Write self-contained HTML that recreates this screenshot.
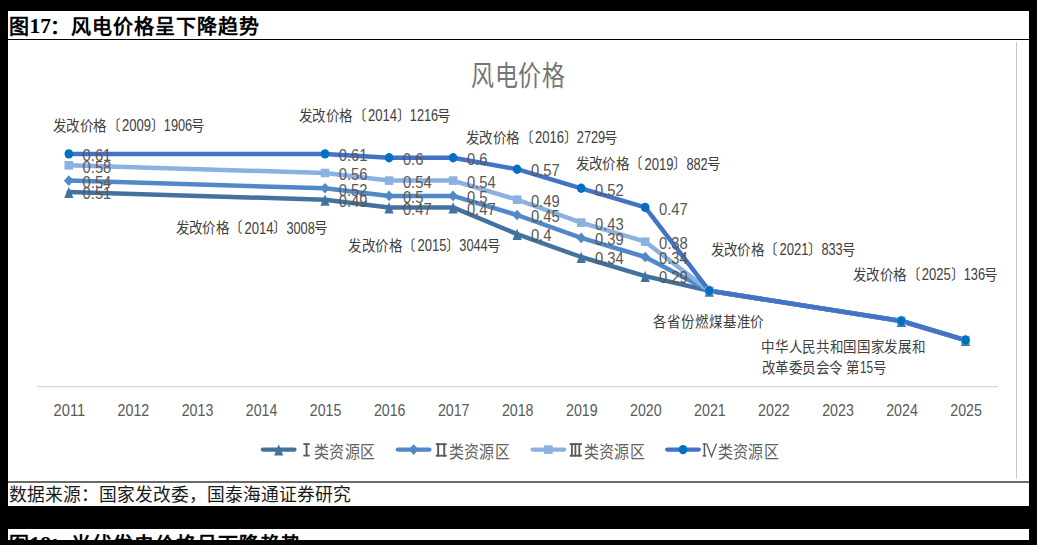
<!DOCTYPE html>
<html lang="zh-CN"><head><meta charset="utf-8">
<style>
html,body{margin:0;padding:0;background:#000;width:1037px;height:545px;overflow:hidden;}
body{position:relative;font-family:"Liberation Sans",sans-serif;}
.panel{position:absolute;left:8px;top:11px;width:1021px;height:495px;background:#fff;}
.panel2{position:absolute;left:8px;top:529px;width:1021px;height:11px;background:#fff;overflow:hidden;}
.title{position:absolute;left:0;top:0;width:400px;height:28px;}
.title span{position:absolute;top:3.8px;line-height:24px;white-space:nowrap;color:#000;font-weight:bold;}
.tc{font-size:20px;font-family:"Liberation Serif",serif;}
.tr{letter-spacing:0.95px;}
.td{font-size:21.5px;margin-top:-1px;font-family:"Liberation Serif",serif;}
.tline{position:absolute;left:0;top:28px;width:1021px;height:1px;background:#000;}
.src{position:absolute;left:1px;top:474px;font-size:17.8px;color:#1a1a1a;white-space:nowrap;line-height:20px;font-family:"Liberation Serif",serif;}
.sline{position:absolute;left:0;top:470px;width:1021px;height:1.5px;background:#6a6a6a;}
svg{position:absolute;left:0;top:0;}
.dl{font-family:"Liberation Sans",sans-serif;font-size:16.8px;fill:#575757;}
.xl{font-family:"Liberation Sans",sans-serif;font-size:17.4px;fill:#595959;}
.ct{font-size:23px;fill:#757575;letter-spacing:0.6px;}
.an{font-size:13.5px;fill:#404040;}
.dg{font-size:14.6px;}
.lg{font-size:15px;letter-spacing:0.5px;fill:#626262;}
</style></head><body>
<div class="panel">
<div class="title"><span class="tc" style="left:1px">图</span><span class="td" style="left:21.5px">17</span><span class="tc" style="left:42px">：</span><span class="tc tr" style="left:63.3px">风电价格呈下降趋势</span></div>
<div class="tline"></div>
<div class="sline"></div>
<div class="src">数据来源：国家发改委，国泰海通证券研究</div>
</div>
<div class="panel2"><div class="title" style="top:0.5px"><span class="tc" style="left:1px">图</span><span class="td" style="left:21.5px">18</span><span class="tc" style="left:42px">：</span><span class="tc tr" style="left:63.3px">光伏发电价格呈下降趋势</span></div></div>
<svg width="1037" height="545" viewBox="0 0 1037 545">
<line x1="37" y1="386.6" x2="998" y2="386.6" stroke="#D9D9D9" stroke-width="1.3"/>
<line x1="1016.5" y1="42" x2="1016.5" y2="478.5" stroke="#C8C8C8" stroke-width="1"/>
<polyline points="68.8,192.1 325.0,199.7 389.1,207.4 453.1,207.4 517.1,234.1 581.2,257.0 645.2,276.1 709.3,290.8 901.4,321.0 965.5,340.1" fill="none" stroke="#44729F" stroke-width="4.5" stroke-linejoin="round" stroke-linecap="round"/>
<polyline points="68.8,180.6 325.0,188.3 389.1,195.9 453.1,195.9 517.1,215.0 581.2,237.9 645.2,257.0 709.3,290.8 901.4,321.0 965.5,340.1" fill="none" stroke="#5089C6" stroke-width="4.5" stroke-linejoin="round" stroke-linecap="round"/>
<polyline points="68.8,165.3 325.0,173.0 389.1,180.6 453.1,180.6 517.1,199.7 581.2,222.6 645.2,241.7 709.3,290.8 901.4,321.0 965.5,340.1" fill="none" stroke="#8AB1DF" stroke-width="4.5" stroke-linejoin="round" stroke-linecap="round"/>
<polyline points="68.8,153.9 325.0,153.9 389.1,157.7 453.1,157.7 517.1,169.2 581.2,188.3 645.2,207.4 709.3,290.8 901.4,321.0 965.5,340.1" fill="none" stroke="#4472C4" stroke-width="4.5" stroke-linejoin="round" stroke-linecap="round"/>
<path d="M68.8 186.7L73.4 198.1L64.2 198.1Z" fill="#44729F"/>
<path d="M325.0 194.3L329.6 205.7L320.4 205.7Z" fill="#44729F"/>
<path d="M389.1 202.0L393.7 213.4L384.4 213.4Z" fill="#44729F"/>
<path d="M453.1 202.0L457.7 213.4L448.5 213.4Z" fill="#44729F"/>
<path d="M517.1 228.7L521.8 240.1L512.5 240.1Z" fill="#44729F"/>
<path d="M581.2 251.6L585.8 263.0L576.6 263.0Z" fill="#44729F"/>
<path d="M645.2 270.7L649.8 282.1L640.6 282.1Z" fill="#44729F"/>
<path d="M709.3 285.4L713.9 296.8L704.7 296.8Z" fill="#44729F"/>
<path d="M901.4 315.6L906.0 327.0L896.8 327.0Z" fill="#44729F"/>
<path d="M965.5 334.7L970.1 346.1L960.9 346.1Z" fill="#44729F"/>
<path d="M68.8 175.3L73.7 180.6L68.8 185.9L63.9 180.6Z" fill="#5089C6"/>
<path d="M325.0 183.0L329.9 188.3L325.0 193.6L320.1 188.3Z" fill="#5089C6"/>
<path d="M389.1 190.6L393.9 195.9L389.1 201.2L384.2 195.9Z" fill="#5089C6"/>
<path d="M453.1 190.6L458.0 195.9L453.1 201.2L448.2 195.9Z" fill="#5089C6"/>
<path d="M517.1 209.7L522.0 215.0L517.1 220.3L512.2 215.0Z" fill="#5089C6"/>
<path d="M581.2 232.6L586.1 237.9L581.2 243.2L576.3 237.9Z" fill="#5089C6"/>
<path d="M645.2 251.7L650.1 257.0L645.2 262.3L640.3 257.0Z" fill="#5089C6"/>
<path d="M709.3 285.5L714.2 290.8L709.3 296.1L704.4 290.8Z" fill="#5089C6"/>
<path d="M901.4 315.7L906.3 321.0L901.4 326.3L896.5 321.0Z" fill="#5089C6"/>
<path d="M965.5 334.8L970.4 340.1L965.5 345.4L960.6 340.1Z" fill="#5089C6"/>
<rect x="64.5" y="161.0" width="8.6" height="8.6" fill="#8AB1DF"/>
<rect x="320.7" y="168.7" width="8.6" height="8.6" fill="#8AB1DF"/>
<rect x="384.8" y="176.3" width="8.6" height="8.6" fill="#8AB1DF"/>
<rect x="448.8" y="176.3" width="8.6" height="8.6" fill="#8AB1DF"/>
<rect x="512.9" y="195.4" width="8.6" height="8.6" fill="#8AB1DF"/>
<rect x="576.9" y="218.3" width="8.6" height="8.6" fill="#8AB1DF"/>
<rect x="640.9" y="237.4" width="8.6" height="8.6" fill="#8AB1DF"/>
<rect x="705.0" y="286.5" width="8.6" height="8.6" fill="#8AB1DF"/>
<rect x="897.1" y="316.7" width="8.6" height="8.6" fill="#8AB1DF"/>
<rect x="961.2" y="335.8" width="8.6" height="8.6" fill="#8AB1DF"/>
<ellipse cx="68.8" cy="153.9" rx="4.3" ry="4.7" fill="#0070C0"/>
<ellipse cx="325.0" cy="153.9" rx="4.3" ry="4.7" fill="#0070C0"/>
<ellipse cx="389.1" cy="157.7" rx="4.3" ry="4.7" fill="#0070C0"/>
<ellipse cx="453.1" cy="157.7" rx="4.3" ry="4.7" fill="#0070C0"/>
<ellipse cx="517.1" cy="169.2" rx="4.3" ry="4.7" fill="#0070C0"/>
<ellipse cx="581.2" cy="188.3" rx="4.3" ry="4.7" fill="#0070C0"/>
<ellipse cx="645.2" cy="207.4" rx="4.3" ry="4.7" fill="#0070C0"/>
<ellipse cx="709.3" cy="290.8" rx="4.3" ry="4.7" fill="#0070C0"/>
<ellipse cx="901.4" cy="321.0" rx="4.3" ry="4.7" fill="#0070C0"/>
<ellipse cx="965.5" cy="340.1" rx="4.3" ry="4.7" fill="#0070C0"/>
<text x="82.6" y="199.3" textLength="28.7" lengthAdjust="spacingAndGlyphs" class="dl">0.51</text>
<text x="338.8" y="206.9" textLength="28.7" lengthAdjust="spacingAndGlyphs" class="dl">0.49</text>
<text x="402.9" y="214.6" textLength="28.7" lengthAdjust="spacingAndGlyphs" class="dl">0.47</text>
<text x="466.9" y="214.6" textLength="28.7" lengthAdjust="spacingAndGlyphs" class="dl">0.47</text>
<text x="530.9" y="241.3" textLength="20.5" lengthAdjust="spacingAndGlyphs" class="dl">0.4</text>
<text x="595.0" y="264.2" textLength="28.7" lengthAdjust="spacingAndGlyphs" class="dl">0.34</text>
<text x="659.0" y="283.3" textLength="28.7" lengthAdjust="spacingAndGlyphs" class="dl">0.29</text>
<text x="82.6" y="187.8" textLength="28.7" lengthAdjust="spacingAndGlyphs" class="dl">0.54</text>
<text x="338.8" y="195.5" textLength="28.7" lengthAdjust="spacingAndGlyphs" class="dl">0.52</text>
<text x="402.9" y="203.1" textLength="20.5" lengthAdjust="spacingAndGlyphs" class="dl">0.5</text>
<text x="466.9" y="203.1" textLength="20.5" lengthAdjust="spacingAndGlyphs" class="dl">0.5</text>
<text x="530.9" y="222.2" textLength="28.7" lengthAdjust="spacingAndGlyphs" class="dl">0.45</text>
<text x="595.0" y="245.1" textLength="28.7" lengthAdjust="spacingAndGlyphs" class="dl">0.39</text>
<text x="659.0" y="264.2" textLength="28.7" lengthAdjust="spacingAndGlyphs" class="dl">0.34</text>
<text x="82.6" y="172.5" textLength="28.7" lengthAdjust="spacingAndGlyphs" class="dl">0.58</text>
<text x="338.8" y="180.2" textLength="28.7" lengthAdjust="spacingAndGlyphs" class="dl">0.56</text>
<text x="402.9" y="187.8" textLength="28.7" lengthAdjust="spacingAndGlyphs" class="dl">0.54</text>
<text x="466.9" y="187.8" textLength="28.7" lengthAdjust="spacingAndGlyphs" class="dl">0.54</text>
<text x="530.9" y="206.9" textLength="28.7" lengthAdjust="spacingAndGlyphs" class="dl">0.49</text>
<text x="595.0" y="229.8" textLength="28.7" lengthAdjust="spacingAndGlyphs" class="dl">0.43</text>
<text x="659.0" y="248.9" textLength="28.7" lengthAdjust="spacingAndGlyphs" class="dl">0.38</text>
<text x="82.6" y="161.1" textLength="28.7" lengthAdjust="spacingAndGlyphs" class="dl">0.61</text>
<text x="338.8" y="161.1" textLength="28.7" lengthAdjust="spacingAndGlyphs" class="dl">0.61</text>
<text x="402.9" y="164.9" textLength="20.5" lengthAdjust="spacingAndGlyphs" class="dl">0.6</text>
<text x="466.9" y="164.9" textLength="20.5" lengthAdjust="spacingAndGlyphs" class="dl">0.6</text>
<text x="530.9" y="176.4" textLength="28.7" lengthAdjust="spacingAndGlyphs" class="dl">0.57</text>
<text x="595.0" y="195.5" textLength="28.7" lengthAdjust="spacingAndGlyphs" class="dl">0.52</text>
<text x="659.0" y="214.6" textLength="28.7" lengthAdjust="spacingAndGlyphs" class="dl">0.47</text>
<text x="53.6" y="416" textLength="31.6" lengthAdjust="spacingAndGlyphs" class="xl">2011</text>
<text x="117.6" y="416" textLength="31.6" lengthAdjust="spacingAndGlyphs" class="xl">2012</text>
<text x="181.7" y="416" textLength="31.6" lengthAdjust="spacingAndGlyphs" class="xl">2013</text>
<text x="245.8" y="416" textLength="31.6" lengthAdjust="spacingAndGlyphs" class="xl">2014</text>
<text x="309.8" y="416" textLength="31.6" lengthAdjust="spacingAndGlyphs" class="xl">2015</text>
<text x="373.9" y="416" textLength="31.6" lengthAdjust="spacingAndGlyphs" class="xl">2016</text>
<text x="437.9" y="416" textLength="31.6" lengthAdjust="spacingAndGlyphs" class="xl">2017</text>
<text x="501.9" y="416" textLength="31.6" lengthAdjust="spacingAndGlyphs" class="xl">2018</text>
<text x="566.0" y="416" textLength="31.6" lengthAdjust="spacingAndGlyphs" class="xl">2019</text>
<text x="630.0" y="416" textLength="31.6" lengthAdjust="spacingAndGlyphs" class="xl">2020</text>
<text x="694.1" y="416" textLength="31.6" lengthAdjust="spacingAndGlyphs" class="xl">2021</text>
<text x="758.1" y="416" textLength="31.6" lengthAdjust="spacingAndGlyphs" class="xl">2022</text>
<text x="822.2" y="416" textLength="31.6" lengthAdjust="spacingAndGlyphs" class="xl">2023</text>
<text x="886.2" y="416" textLength="31.6" lengthAdjust="spacingAndGlyphs" class="xl">2024</text>
<text x="950.3" y="416" textLength="31.6" lengthAdjust="spacingAndGlyphs" class="xl">2025</text>
<text transform="translate(471,85.6) scale(1,1.24)" class="ct">风电价格</text>
<g transform="matrix(1,0,0,1.08,0,-10.47)"><text x="53.0" y="130.9" class="an">发改价格〔</text><text x="121.9" y="131.1" textLength="29" lengthAdjust="spacingAndGlyphs" class="an dg">2009</text><text x="150.7" y="130.9" class="an">〕</text><text x="163.8" y="131.1" textLength="28.4" lengthAdjust="spacingAndGlyphs" class="an dg">1906</text><text x="191.4" y="130.9" class="an">号</text></g>
<g transform="matrix(1,0,0,1.08,0,-9.67)"><text x="299.0" y="120.9" class="an">发改价格〔</text><text x="367.9" y="121.1" textLength="29" lengthAdjust="spacingAndGlyphs" class="an dg">2014</text><text x="396.7" y="120.9" class="an">〕</text><text x="409.8" y="121.1" textLength="28.4" lengthAdjust="spacingAndGlyphs" class="an dg">1216</text><text x="437.4" y="120.9" class="an">号</text></g>
<g transform="matrix(1,0,0,1.08,0,-18.67)"><text x="175.6" y="233.4" class="an">发改价格〔</text><text x="244.5" y="233.6" textLength="29" lengthAdjust="spacingAndGlyphs" class="an dg">2014</text><text x="273.3" y="233.4" class="an">〕</text><text x="286.4" y="233.6" textLength="28.4" lengthAdjust="spacingAndGlyphs" class="an dg">3008</text><text x="314.0" y="233.4" class="an">号</text></g>
<g transform="matrix(1,0,0,1.08,0,-20.07)"><text x="348.5" y="250.9" class="an">发改价格〔</text><text x="417.4" y="251.1" textLength="29" lengthAdjust="spacingAndGlyphs" class="an dg">2015</text><text x="446.2" y="250.9" class="an">〕</text><text x="459.3" y="251.1" textLength="28.4" lengthAdjust="spacingAndGlyphs" class="an dg">3044</text><text x="486.9" y="250.9" class="an">号</text></g>
<g transform="matrix(1,0,0,1.08,0,-11.43)"><text x="466.0" y="142.9" class="an">发改价格〔</text><text x="534.9" y="143.1" textLength="29" lengthAdjust="spacingAndGlyphs" class="an dg">2016</text><text x="563.7" y="142.9" class="an">〕</text><text x="576.8" y="143.1" textLength="28.4" lengthAdjust="spacingAndGlyphs" class="an dg">2729</text><text x="604.4" y="142.9" class="an">号</text></g>
<g transform="matrix(1,0,0,1.08,0,-13.54)"><text x="575.6" y="169.3" class="an">发改价格〔</text><text x="644.5" y="169.5" textLength="29" lengthAdjust="spacingAndGlyphs" class="an dg">2019</text><text x="673.3" y="169.3" class="an">〕</text><text x="686.4" y="169.5" textLength="21.3" lengthAdjust="spacingAndGlyphs" class="an dg">882</text><text x="706.9" y="169.3" class="an">号</text></g>
<g transform="matrix(1,0,0,1.08,0,-20.41)"><text x="710.6" y="255.1" class="an">发改价格〔</text><text x="779.5" y="255.3" textLength="29" lengthAdjust="spacingAndGlyphs" class="an dg">2021</text><text x="808.3" y="255.1" class="an">〕</text><text x="821.4" y="255.3" textLength="21.3" lengthAdjust="spacingAndGlyphs" class="an dg">833</text><text x="841.9" y="255.1" class="an">号</text></g>
<g transform="matrix(1,0,0,1.08,0,-22.38)"><text x="852.9" y="279.8" class="an">发改价格〔</text><text x="921.8" y="280.0" textLength="29" lengthAdjust="spacingAndGlyphs" class="an dg">2025</text><text x="950.6" y="279.8" class="an">〕</text><text x="963.7" y="280.0" textLength="21.3" lengthAdjust="spacingAndGlyphs" class="an dg">136</text><text x="984.2" y="279.8" class="an">号</text></g>
<g transform="matrix(1,0,0,1.08,0,-26.19)"><text x="653.5" y="327.4" class="an" style="letter-spacing:0.4px">各省份燃煤基准价</text></g>
<g transform="matrix(1,0,0,1.08,0,-28.14)"><text x="761.5" y="351.7" class="an" style="letter-spacing:0.2px">中华人民共和国国家发展和</text></g>
<g transform="matrix(1,0,0,1.08,0,-29.85)"><text x="762" y="373.1" class="an">改革委员会令</text><text x="846" y="373.1" class="an">第</text><text x="860" y="372.7" textLength="13.2" lengthAdjust="spacingAndGlyphs" class="an dg">15</text><text x="873.5" y="373.1" class="an">号</text></g>
<line x1="262.9" y1="449.6" x2="294.5" y2="449.6" stroke="#44729F" stroke-width="4.3" stroke-linecap="round"/>
<path d="M278.7 444.2L283.3 455.6L274.1 455.6Z" fill="#44729F"/>
<rect x="303.3" y="443.2" width="6.5" height="1.7" fill="#595959"/><rect x="305.6" y="443.2" width="1.9" height="13.2" fill="#595959"/><rect x="303.3" y="454.7" width="6.5" height="1.7" fill="#595959"/>
<text transform="translate(314.0,458.3) scale(1,1.13)" class="lg">类资源区</text>
<line x1="397.8" y1="449.6" x2="429.4" y2="449.6" stroke="#5089C6" stroke-width="4.3" stroke-linecap="round"/>
<path d="M413.6 444.3L418.5 449.6L413.6 454.9L408.7 449.6Z" fill="#5089C6"/>
<rect x="435.7" y="443.3" width="11" height="1.8" fill="#595959"/><rect x="437.2" y="443.3" width="1.9" height="13.3" fill="#595959"/><rect x="443.3" y="443.3" width="1.9" height="13.3" fill="#595959"/><rect x="435.7" y="454.8" width="11" height="1.8" fill="#595959"/>
<text transform="translate(448.5,458.3) scale(1,1.13)" class="lg">类资源区</text>
<line x1="532.6" y1="449.6" x2="564.2" y2="449.6" stroke="#8AB1DF" stroke-width="4.3" stroke-linecap="round"/>
<rect x="544.1" y="445.3" width="8.6" height="8.6" fill="#8AB1DF"/>
<rect x="569.7" y="443.2" width="12.3" height="1.8" fill="#595959"/><rect x="571.0" y="443.2" width="1.8" height="13.4" fill="#595959"/><rect x="574.5" y="443.2" width="1.8" height="13.4" fill="#595959"/><rect x="578.4" y="443.2" width="1.8" height="13.4" fill="#595959"/><rect x="569.7" y="454.8" width="12.3" height="1.8" fill="#595959"/>
<text transform="translate(583.5,458.3) scale(1,1.13)" class="lg">类资源区</text>
<line x1="667.2" y1="449.6" x2="698.8" y2="449.6" stroke="#4472C4" stroke-width="4.3" stroke-linecap="round"/>
<ellipse cx="683.0" cy="449.6" rx="4.3" ry="4.7" fill="#0070C0"/>
<rect x="702.6" y="443.4" width="3.6" height="1.3" fill="#595959"/><rect x="703.7" y="443.4" width="1.5" height="13" fill="#595959"/><rect x="702.6" y="455.2" width="3.6" height="1.3" fill="#595959"/><path d="M706.6 443.4L711.5 456.4L716.5 443.4" fill="none" stroke="#595959" stroke-width="1.3"/>
<text transform="translate(717.5,458.3) scale(1,1.13)" class="lg">类资源区</text>
</svg>
</body></html>
